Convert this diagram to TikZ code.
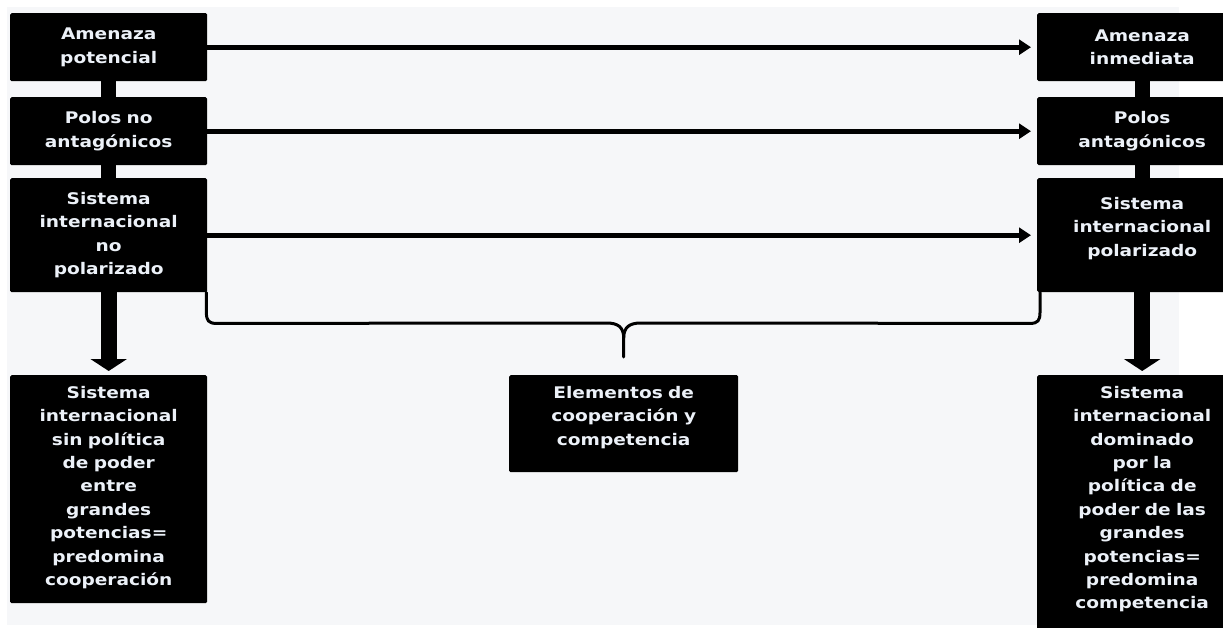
\documentclass[tikz,border=0pt]{standalone}
\usepackage{fontspec}
\newfontfamily\bxfont{DejaVu Sans}[FakeStretch=1.16]
\usetikzlibrary{arrows.meta,calc}
\definecolor{bgpanel}{HTML}{F6F7F9}
\definecolor{boxtext}{HTML}{ECF1F8}
\tikzset{
  box/.style={rectangle, fill=black, rounded corners=1.5pt, anchor=north west,
    inner xsep=2pt, inner ysep=0pt, align=center, text=boxtext,
    font=\bxfont\bfseries\fontsize{16}{23.4}\selectfont},
  topbox/.style={box, inner ysep=7pt, text height=16pt},
  harrow/.style={line width=5pt, -{Triangle[width=15pt,length=12pt]}, shorten >=6pt},
  varrow/.style={line width=16pt, -{Triangle[width=36pt,length=12pt]}, shorten >=4pt},
  bar/.style={line width=15pt},
  bracepath/.style={line width=3pt, line join=round, line cap=round}
}
\begin{document}
\begin{tikzpicture}[x=1pt,y=-1pt]
\useasboundingbox (0,0) rectangle (1223,627);
\clip (0,0) rectangle (1223,627);
\fill[white] (0,0) rectangle (1223,627);
\fill[bgpanel] (7,7) rectangle (1179,625);

% left column
\node[box, text width=193pt, minimum height=68pt] (L1) at (10,13) {Amenaza\\potencial};
\node[box, text width=193pt, minimum height=68pt] (L2) at (10,97) {Polos no\\antagónicos};
\node[box, text width=193pt, minimum height=114pt] (L3) at (10,178) {Sistema\\internacional\\no\\polarizado};
\node[topbox, text width=193pt, text depth=198pt] (L4) at (10,375) {Sistema\\internacional\\sin política\\de poder\\entre\\grandes\\potencias=\\predomina\\cooperación};

% right column
\node[box, text width=206pt, minimum height=68pt] (R1) at (1037,13) {Amenaza\\inmediata};
\node[box, text width=206pt, minimum height=68pt] (R2) at (1037,97) {Polos\\antagónicos};
\node[topbox, text width=206pt, text height=24pt, text depth=76pt] (R3) at (1037,178) {Sistema\\internacional\\polarizado};
\node[topbox, text width=206pt, text depth=230pt] (R4) at (1037,375) {Sistema\\internacional\\dominado\\por la\\política de\\poder de las\\grandes\\potencias=\\predomina\\competencia};

% centre
\node[topbox, text width=225pt, text depth=67pt] (E) at (509,375) {Elementos de\\cooperación y\\competencia};

% vertical bars
\draw[bar] (L1.south) -- (L2.north);
\draw[bar] (L2.south) -- (L3.north);
\draw[bar] (R1.south) -- (R2.north);
\draw[bar] (R2.south) -- (R3.north);

% horizontal arrows
\draw[harrow] (L1.east) -- (R1.west);
\draw[harrow] (L2.east) -- (R2.west);
\draw[harrow] (L3.east) -- (R3.west);

% down arrows
\draw[varrow] (L3.south) -- (L4.north);
\draw[varrow] (R3.south) -- (R4.north);

% brace
\coordinate (bL) at ([xshift=-1pt]L3.south east);
\coordinate (bR) at ([xshift=3pt]R3.south west);
\coordinate (bT) at ([yshift=18pt]E.north);
\draw[bracepath] (bL) -- ($(bL)+(0,20)$)
  .. controls ($(bL)+(0,28)$) and ($(bL)+(2,31)$) .. ($(bL)+(10,31)$)
  -- ($(bT)+(-17,-34)$)
  .. controls ($(bT)+(-6,-34)$) and ($(bT)+(0,-30)$) .. ($(bT)+(0,-19)$)
  -- (bT);
\draw[bracepath] (bR) -- ($(bR)+(0,20)$)
  .. controls ($(bR)+(0,28)$) and ($(bR)+(-2,31)$) .. ($(bR)+(-10,31)$)
  -- ($(bT)+(17,-34)$)
  .. controls ($(bT)+(6,-34)$) and ($(bT)+(0,-30)$) .. ($(bT)+(0,-19)$);
\end{tikzpicture}
\end{document}
